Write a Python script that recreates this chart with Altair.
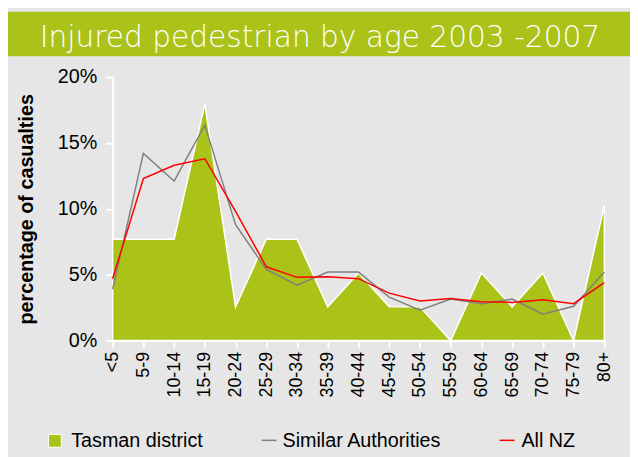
import altair as alt
import pandas as pd

ages = ["<5", "5-9", "10-14", "15-19", "20-24", "25-29", "30-34", "35-39", "40-44",
        "45-49", "50-54", "55-59", "60-64", "65-69", "70-74", "75-79", "80+"]
tasman = [7.69, 7.69, 7.69, 17.95, 2.56, 7.69, 7.69, 2.56, 5.13, 2.56, 2.56, 0.0,
          5.13, 2.56, 5.13, 0.0, 10.26]
similar = [3.9, 14.2, 12.1, 16.35, 8.8, 5.4, 4.2, 5.2, 5.2, 3.3, 2.3, 3.15,
           2.8, 3.15, 2.0, 2.6, 5.2]
all_nz = [4.7, 12.3, 13.3, 13.8, 9.8, 5.6, 4.8, 4.85, 4.7, 3.6, 3.0, 3.2,
          2.95, 2.9, 3.1, 2.8, 4.4]
y_ticks = [0, 5, 10, 15, 20]
series = ["Tasman district", "Similar Authorities", "All NZ"]
title_text = "Injured pedestrian by age 2003 -2007"
y_title = "percentage of casualties"

GREEN = "#abc218"
GREY = "#808080"
RED = "#ff0000"
FONT = "Liberation Sans"

df_t = pd.DataFrame({"age": ages, "value": tasman})
df_s = pd.DataFrame({"age": ages, "value": similar})
df_n = pd.DataFrame({"age": ages, "value": all_nz})
one = pd.DataFrame({"k": [0]})

x_enc = alt.X("age:O", sort=ages, scale=alt.Scale(type="point", padding=0),
              axis=alt.Axis(title=None, labelAngle=270, labelAlign="right",
                            labelBaseline="middle", labelFont=FONT, labelFontSize=18,
                            labelColor="black", labelPadding=4, domainColor="white",
                            domainWidth=2, tickColor="white", tickWidth=2, tickSize=7,
                            grid=False))
y_enc = alt.Y("value:Q", scale=alt.Scale(domain=[0, 20], nice=False),
              axis=alt.Axis(values=y_ticks, labelExpr="datum.value + '%'",
                            labelFont=FONT, labelFontSize=20, labelColor="black",
                            labelPadding=9, domainColor="white", domainWidth=2,
                            tickColor="white", tickWidth=2, tickSize=7, grid=False,
                            title=y_title, titleFont=FONT, titleFontSize=20,
                            titleFontWeight="bold", titleColor="black",
                            titleX=-87, titleY=133.5, titleAngle=270,
                            titleAlign="center", titleBaseline="middle"))

area = alt.Chart(df_t).mark_area(color=GREEN, stroke="white", strokeWidth=1.5,
                                 opacity=1).encode(x=x_enc, y=y_enc)
line_s = alt.Chart(df_s).mark_line(color=GREY, strokeWidth=1.5).encode(x=x_enc, y=y_enc)
line_n = alt.Chart(df_n).mark_line(color=RED, strokeWidth=1.5).encode(x=x_enc, y=y_enc)

band = alt.Chart(one).mark_rect(color=GREEN).encode(
    x=alt.value(-106), x2=alt.value(524), y=alt.value(-66), y2=alt.value(-21))
title = alt.Chart(one).mark_text(color="white", font="DejaVu Sans", fontSize=30,
                                 fontWeight=300, align="center",
                                 baseline="alphabetic").encode(
    x=alt.value(210), y=alt.value(-30), text=alt.value(title_text))

leg_sq = alt.Chart(one).mark_rect(color=GREEN, stroke="white", strokeWidth=1).encode(
    x=alt.value(-65), x2=alt.value(-52), y=alt.value(362), y2=alt.value(375))
leg_t1 = alt.Chart(one).mark_text(font=FONT, fontSize=20, align="left",
                                  baseline="alphabetic", color="black").encode(
    x=alt.value(-42), y=alt.value(375), text=alt.value(series[0]))
leg_r2 = alt.Chart(one).mark_rule(color=GREY, strokeWidth=1.5).encode(
    x=alt.value(151), x2=alt.value(166), y=alt.value(368))
leg_t2 = alt.Chart(one).mark_text(font=FONT, fontSize=20, align="left",
                                  baseline="alphabetic", color="black").encode(
    x=alt.value(172), y=alt.value(375), text=alt.value(series[1]))
leg_r3 = alt.Chart(one).mark_rule(color=RED, strokeWidth=1.5).encode(
    x=alt.value(392), x2=alt.value(407), y=alt.value(368))
leg_t3 = alt.Chart(one).mark_text(font=FONT, fontSize=20, align="left",
                                  baseline="alphabetic", color="black").encode(
    x=alt.value(414), y=alt.value(375), text=alt.value(series[2]))

chart = alt.layer(band, title, area, line_s, line_n,
                  leg_sq, leg_t1, leg_r2, leg_t2, leg_r3, leg_t3).properties(
    width=498, height=267,
    autosize=alt.AutoSizeParams(type="none"),
    padding={"left": 106, "top": 67, "right": 26, "bottom": 115},
    background="#e6e6e6",
).configure_view(stroke="transparent")

chart.save("out.html", embed_options={"renderer": "svg", "actions": False})
